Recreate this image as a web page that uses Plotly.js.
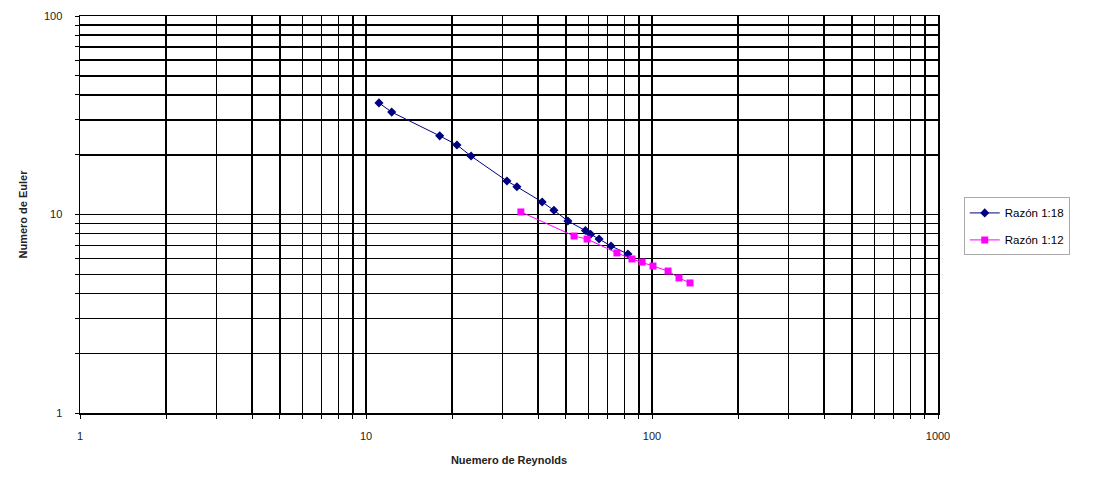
<!DOCTYPE html>
<html>
<head>
<meta charset="utf-8">
<script src="https://cdn.plot.ly/plotly-3.0.1.min.js"></script>
<style>html,body{margin:0;padding:0;background:#fff;}#chart{width:1117px;height:478px;}</style>
</head>
<body>
<div id="chart"></div>
<script>
const reynolds18 = [11.1, 12.3, 18.1, 20.8, 23.3, 31.1, 33.7, 41.3, 45.4, 50.8, 58.5, 61.0, 65.3, 71.9, 82.4];
const euler18    = [36.5, 32.8, 24.9, 22.4, 19.7, 14.75, 13.8, 11.56, 10.5, 9.27, 8.3, 7.95, 7.52, 6.94, 6.32];
const reynolds12 = [34.8, 53.4, 59.3, 75.4, 85.1, 92.3, 100.8, 113.8, 124.3, 135.8];
const euler12    = [10.3, 7.79, 7.52, 6.40, 5.97, 5.76, 5.50, 5.19, 4.79, 4.52];
const seriesNames = ['Razón 1:18', 'Razón 1:12'];
const xTitle = 'Nuemero de Reynolds';
const yTitle = 'Numero de Euler';
const majorX = [1, 10, 100, 1000];
const majorY = [1, 10, 100];

function logTicks(majors) {
  const vals = [], text = [];
  for (let i = 0; i < majors.length; i++) {
    const m = majors[i];
    vals.push(m); text.push(String(m));
    if (i < majors.length - 1) {
      for (let k = 2; k <= 9; k++) { vals.push(m * k); text.push(''); }
    }
  }
  return {vals, text};
}
const xt = logTicks(majorX), yt = logTicks(majorY);

const traces = [
  {x: reynolds18, y: euler18, name: seriesNames[0], legendgroup: 'a', type: 'scatter', mode: 'lines+markers',
   line: {color: '#000080', width: 1}, marker: {symbol: 'diamond', size: 7, color: '#000080'}},
  {x: reynolds12, y: euler12, name: seriesNames[1], legendgroup: 'b', type: 'scatter', mode: 'lines+markers',
   line: {color: '#FF00FF', width: 1}, marker: {symbol: 'square', size: 7, color: '#FF00FF'}}
];

const font = {family: 'Liberation Sans, Arial, sans-serif', size: 11, color: '#222'};
const layout = {
  width: 1117, height: 478,
  margin: {l: 80, r: 179, t: 16, b: 65},
  paper_bgcolor: '#fff', plot_bgcolor: '#fff',
  font: font,
  showlegend: true,
  legend: {x: 1.03, y: 0.47, xanchor: 'left', yanchor: 'middle', bordercolor: '#aaa', borderwidth: 1,
           font: {family: 'Liberation Sans, Arial, sans-serif', size: 11.5, color: '#000'},
           traceorder: 'grouped', tracegroupgap: 8},
  xaxis: {type: 'log', range: [0, 3], tickmode: 'array', tickvals: xt.vals, ticktext: xt.text,
          showgrid: true, gridcolor: '#000', gridwidth: 1.5, showline: true, linecolor: '#000', linewidth: 1.5,
          mirror: true, ticks: 'outside', ticklen: 4, tickcolor: '#000', zeroline: false,
          ticklabelstandoff: 8,
          tickfont: {size: 11, color: '#222'},
          title: {text: '<b>' + xTitle + '</b>', font: {size: 11, color: '#222'}, standoff: 15}},
  yaxis: {type: 'log', range: [0, 2], tickmode: 'array', tickvals: yt.vals, ticktext: yt.text,
          showgrid: true, gridcolor: '#000', gridwidth: 1.5, showline: true, linecolor: '#000', linewidth: 1.5,
          mirror: true, ticks: 'outside', ticklen: 4, tickcolor: '#000', zeroline: false,
          ticklabelstandoff: 10,
          tickfont: {size: 11, color: '#222'},
          title: {text: '<b>' + yTitle + '</b>', font: {size: 11, color: '#222'}, standoff: 14}}
};
Plotly.newPlot('chart', traces, layout, {displayModeBar: false, staticPlot: true});
</script>
</body>
</html>
